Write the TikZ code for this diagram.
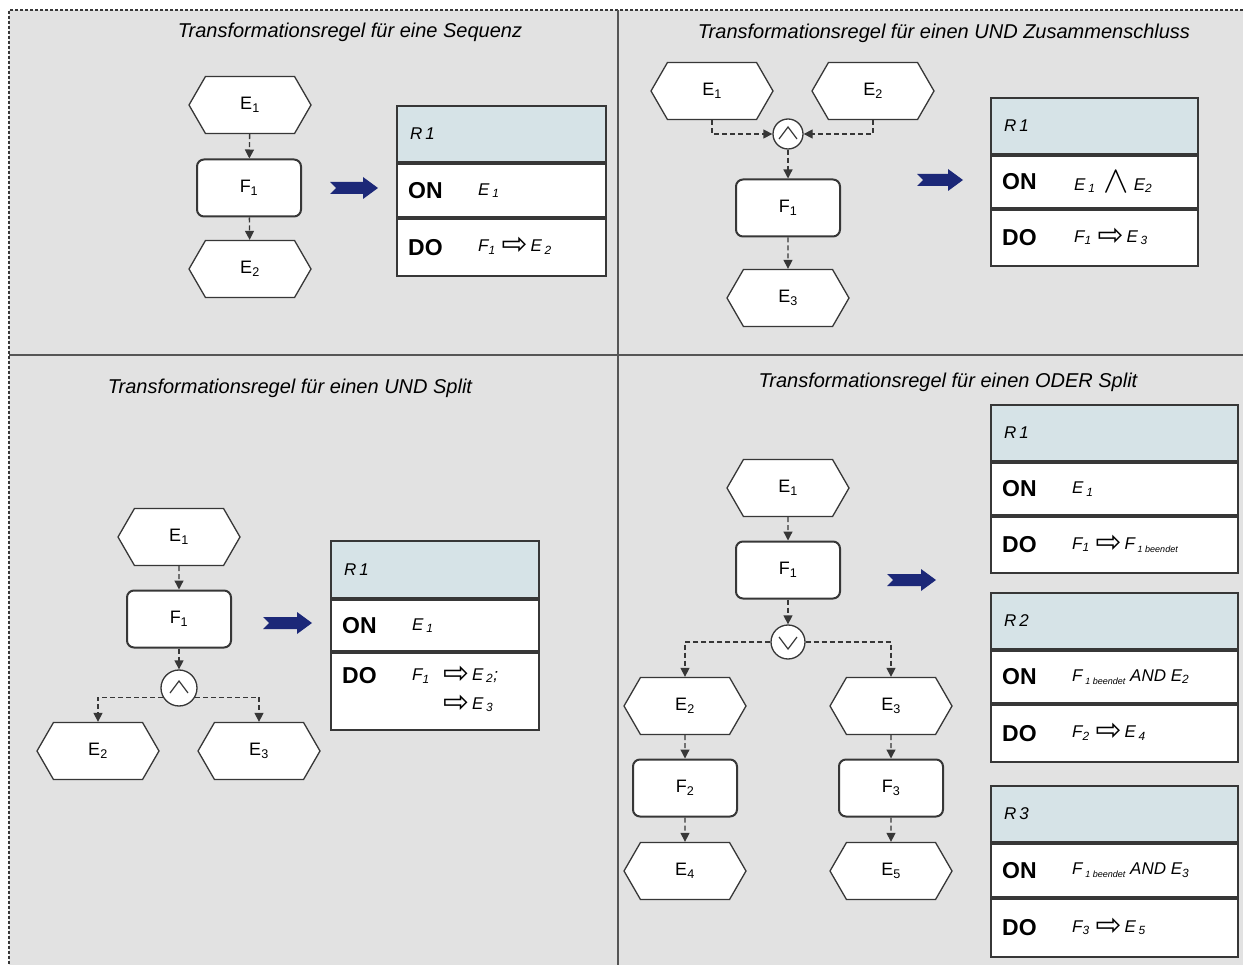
\documentclass[tikz,border=0pt]{standalone}
\usepackage{graphicx}
\usepackage{fontspec}
\setmainfont{Liberation Sans}
\newfontfamily\symf{DejaVu Sans}
\usetikzlibrary{shapes.symbols,arrows.meta}
\definecolor{bgc}{RGB}{226,226,226}
\definecolor{hdrc}{RGB}{214,227,231}
\definecolor{navyc}{RGB}{28,40,120}
\definecolor{linec}{RGB}{55,55,55}
\newcommand\sbs[1]{\textsubscript{#1}}
\newcommand\warr{\raisebox{-3pt}{\smash{\symf\fontsize{31}{31}\selectfont ⇨}}}
\newcommand\wedgesym{\raisebox{-2pt}{\scalebox{2.2}{$\wedge$}}}
\newcommand\fbeendet{F\,{\fontsize{9}{9}\selectfont\raisebox{-3pt}{1 beendet}}}
\newcommand\bluearr[3]{\fill[navyc] ({#1},{#3-6}) -- ({#2-15},{#3-6}) -- ({#2-15},{#3-11}) -- ({#2},{#3}) -- ({#2-15},{#3+11}) -- ({#2-15},{#3+6}) -- ({#1},{#3+6}) -- ({#1+6},{#3}) -- cycle;}
\begin{document}
\begin{tikzpicture}[x=1pt,y=-1pt,
  ev/.style={signal, signal to=east and west, signal from=nowhere, signal pointer angle=120, draw=linec, fill=white, line width=1.3pt, minimum width=122pt, minimum height=57pt, inner sep=0pt, font=\fontsize{18}{20}\selectfont},
  fn/.style={rectangle, rounded corners=7pt, draw=linec, fill=white, line width=2pt, minimum width=104pt, minimum height=57pt, inner sep=0pt, font=\fontsize{18}{20}\selectfont},
  cn/.style={draw=linec, line width=1.3pt, dash pattern=on 5pt off 3pt, -{Triangle[length=9pt,width=9pt]}},
  hdr/.style={draw=linec, fill=hdrc, line width=2pt, anchor=north west, inner sep=0pt},
  rowb/.style={draw=linec, fill=white, line width=2pt, anchor=north west, inner sep=0pt},
  kw/.style={font=\fontsize{23}{24}\selectfont\bfseries, anchor=west, inner sep=0pt},
  fm/.style={font=\fontsize{17}{18}\selectfont\itshape, anchor=west, inner sep=0pt},
  rl/.style={font=\fontsize{17}{18}\selectfont\itshape, anchor=west, inner sep=0pt},
  ttl/.style={font=\fontsize{20}{22}\selectfont\itshape, anchor=base, inner sep=0pt},
  andc/.style={circle, draw=linec, fill=white, line width=1.3pt, inner sep=0pt, minimum size=#1,
    path picture={\draw[line width=1.2pt] ([shift={(-9,5)}]path picture bounding box.center) -- ([shift={(0,-7)}]path picture bounding box.center) -- ([shift={(9,5)}]path picture bounding box.center);}},
  orc/.style={circle, draw=linec, fill=white, line width=1.3pt, inner sep=0pt, minimum size=#1,
    path picture={\draw[line width=1.2pt] ([shift={(-9,-5)}]path picture bounding box.center) -- ([shift={(0,7)}]path picture bounding box.center) -- ([shift={(9,-5)}]path picture bounding box.center);}}
]
\useasboundingbox (0,0) rectangle (1243,965);
\fill[white] (0,0) rectangle (1243,965);
\fill[bgc] (9,10) rectangle (1243,965);
\draw[linec, dash pattern=on 3pt off 2pt, line width=1.5pt] (1243,10) -- (9,10) -- (9,965);
\draw[linec!85, line width=2.5pt] (618,10) -- (618,965);
\draw[linec!85, line width=2.5pt] (9,355) -- (1243,355);

% titles
\node[ttl] (t1) at (350,38) {Transformationsregel für eine Sequenz};
\node[ttl] (t2) at (944,39) {Transformationsregel für einen UND Zusammenschluss};
\node[ttl] (t3) at (290,394) {Transformationsregel für einen UND Split};
\node[ttl] (t4) at (948,388) {Transformationsregel für einen ODER Split};

% ---------- panel 1
\node[ev] (pa1) at (250,105) {E\sbs{1}};
\node[fn] (pf1) at (249,188) {F\sbs{1}};
\node[ev] (pa2) at (250,269) {E\sbs{2}};
\draw[cn] (pa1) -- (pf1);
\draw[cn] (pf1) -- (pa2);
\bluearr{330}{378}{188}
\node[hdr, minimum width=209pt, minimum height=56pt] (ah) at (396,105) {};
\node[rowb, minimum width=209pt, minimum height=53pt] (aon) at (ah.south west) {};
\node[rowb, minimum width=209pt, minimum height=57pt] (ado) at (aon.south west) {};
\node[rl] (ar) at ([xshift=14pt]ah.west) {R\,1};
\node[kw] (aonk) at ([xshift=12pt]aon.west) {ON};
\node[fm] (aonf) at ([xshift=82pt]aon.west) {E\,\sbs{1}};
\node[kw] (adok) at ([xshift=12pt]ado.west) {DO};
\node[fm] (adof) at ([xshift=82pt]ado.west) {F\sbs{1}\hspace{6pt}\warr\,E\,\sbs{2}};

% ---------- panel 2
\node[ev] (qe1) at (712,91) {E\sbs{1}};
\node[ev] (qe2) at (873,91) {E\sbs{2}};
\node[andc=30pt] (qc) at (788,134) {};
\node[fn] (qf1) at (788,208) {F\sbs{1}};
\node[ev] (qe3) at (788,298) {E\sbs{3}};
\draw[cn] (qe1.south) |- (qc.west);
\draw[cn] (qe2.south) |- (qc.east);
\draw[cn] (qc) -- (qf1);
\draw[cn] (qf1) -- (qe3);
\bluearr{917}{963}{180}
\node[hdr, minimum width=207pt, minimum height=56pt] (bh) at (990,97) {};
\node[rowb, minimum width=207pt, minimum height=52pt] (bon) at (bh.south west) {};
\node[rowb, minimum width=207pt, minimum height=56pt] (bdo) at (bon.south west) {};
\node[rl] (br) at ([xshift=14pt]bh.west) {R\,1};
\node[kw] (bonk) at ([xshift=12pt]bon.west) {ON};
\node[fm] (bonf) at ([xshift=84pt]bon.west) {E\,\sbs{1}\hspace{8pt}\wedgesym\hspace{5pt}E\sbs{2}};
\node[kw] (bdok) at ([xshift=12pt]bdo.west) {DO};
\node[fm] (bdof) at ([xshift=84pt]bdo.west) {F\sbs{1}\hspace{6pt}\warr\,E\,\sbs{3}};

% ---------- panel 3
\node[ev] (ce1) at (179,537) {E\sbs{1}};
\node[fn] (cf1) at (179,619) {F\sbs{1}};
\node[andc=36pt] (cc) at (179,688) {};
\node[ev] (ce2) at (98,751) {E\sbs{2}};
\node[ev] (ce3) at (259,751) {E\sbs{3}};
\draw[cn] (ce1) -- (cf1);
\draw[cn] (cf1) -- (cc);
\draw[cn] (cc.-150) -| (ce2.north);
\draw[cn] (cc.-30) -| (ce3.north);
\bluearr{263}{312}{623}
\node[hdr, minimum width=208pt, minimum height=57pt] (ch) at (330,540) {};
\node[rowb, minimum width=208pt, minimum height=51pt] (con) at (ch.south west) {};
\node[rowb, minimum width=208pt, minimum height=77pt] (cdo) at (con.south west) {};
\node[rl] (cr) at ([xshift=14pt]ch.west) {R\,1};
\node[kw] (conk) at ([xshift=12pt]con.west) {ON};
\node[fm] (conf) at ([xshift=82pt]con.west) {E\,\sbs{1}};
\node[kw] (cdok) at ([shift={(12,24)}]cdo.north west) {DO};
\node[fm] (cdof) at ([shift={(82,24)}]cdo.north west) {F\sbs{1}};
\node[fm] (cdog) at ([shift={(113,24)}]cdo.north west) {\warr\,E\,\sbs{2};};
\node[fm] (cdoh) at ([shift={(113,53)}]cdo.north west) {\warr\,E\,\sbs{3}};

% ---------- panel 4
\node[ev] (de1) at (788,488) {E\sbs{1}};
\node[fn] (df1) at (788,570) {F\sbs{1}};
\node[orc=34pt] (dc) at (788,642) {};
\node[ev] (de2) at (685,706) {E\sbs{2}};
\node[ev] (de3) at (891,706) {E\sbs{3}};
\node[fn] (df2) at (685,788) {F\sbs{2}};
\node[fn] (df3) at (891,788) {F\sbs{3}};
\node[ev] (de4) at (685,871) {E\sbs{4}};
\node[ev] (de5) at (891,871) {E\sbs{5}};
\draw[cn] (de1) -- (df1);
\draw[cn] (df1) -- (dc);
\draw[cn] (dc.west) -| (de2.north);
\draw[cn] (dc.east) -| (de3.north);
\draw[cn] (de2) -- (df2);
\draw[cn] (df2) -- (de4);
\draw[cn] (de3) -- (df3);
\draw[cn] (df3) -- (de5);
\bluearr{887}{936}{580}
% R1
\node[hdr, minimum width=247pt, minimum height=56pt] (eh) at (990,404) {};
\node[rowb, minimum width=247pt, minimum height=52pt] (eon) at (eh.south west) {};
\node[rowb, minimum width=247pt, minimum height=56pt] (edo) at (eon.south west) {};
\node[rl] (er) at ([xshift=14pt]eh.west) {R\,1};
\node[kw] (eonk) at ([xshift=12pt]eon.west) {ON};
\node[fm] (eonf) at ([xshift=82pt]eon.west) {E\,\sbs{1}};
\node[kw] (edok) at ([xshift=12pt]edo.west) {DO};
\node[fm] (edof) at ([xshift=82pt]edo.west) {F\sbs{1}\hspace{6pt}\warr\,\fbeendet};
% R2
\node[hdr, minimum width=247pt, minimum height=56pt] (fh) at (990,592) {};
\node[rowb, minimum width=247pt, minimum height=52pt] (fon) at (fh.south west) {};
\node[rowb, minimum width=247pt, minimum height=57pt] (fdo) at (fon.south west) {};
\node[rl] (fr) at ([xshift=14pt]fh.west) {R\,2};
\node[kw] (fonk) at ([xshift=12pt]fon.west) {ON};
\node[fm] (fonf) at ([xshift=82pt]fon.west) {\fbeendet\ AND E\sbs{2}};
\node[kw] (fdok) at ([xshift=12pt]fdo.west) {DO};
\node[fm] (fdof) at ([xshift=82pt]fdo.west) {F\sbs{2}\hspace{6pt}\warr\,E\,\sbs{4}};
% R3
\node[hdr, minimum width=247pt, minimum height=56pt] (gh) at (990,785) {};
\node[rowb, minimum width=247pt, minimum height=53pt] (gon) at (gh.south west) {};
\node[rowb, minimum width=247pt, minimum height=58pt] (gdo) at (gon.south west) {};
\node[rl] (gr) at ([xshift=14pt]gh.west) {R\,3};
\node[kw] (gonk) at ([xshift=12pt]gon.west) {ON};
\node[fm] (gonf) at ([xshift=82pt]gon.west) {\fbeendet\ AND E\sbs{3}};
\node[kw] (gdok) at ([xshift=12pt]gdo.west) {DO};
\node[fm] (gdof) at ([xshift=82pt]gdo.west) {F\sbs{3}\hspace{6pt}\warr\,E\,\sbs{5}};
\end{tikzpicture}
\end{document}
